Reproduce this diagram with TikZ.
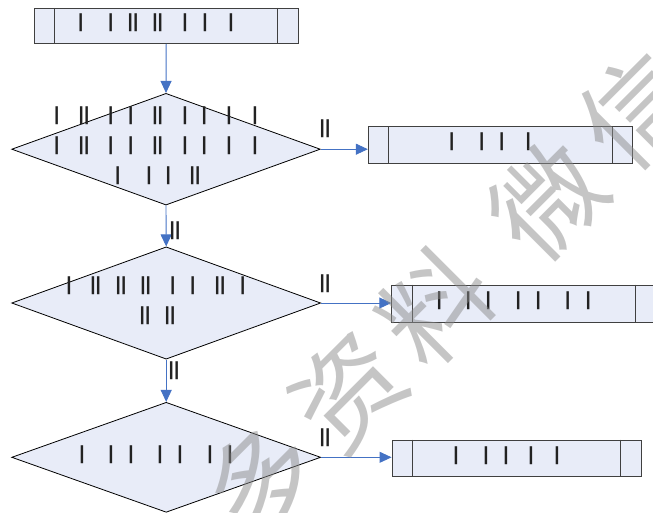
\documentclass[tikz,border=0pt]{standalone}
\usepackage{fontspec}
\setmainfont{Liberation Sans}
\newfontfamily\cjk{Noto Sans CJK SC}
\usetikzlibrary{shapes.geometric,arrows.meta}
\definecolor{boxfill}{RGB}{232,236,248}
\definecolor{arrowblue}{RGB}{68,114,196}
\definecolor{barcol}{RGB}{34,34,34}
\definecolor{boxline}{RGB}{64,64,64}
\definecolor{wm}{RGB}{140,140,140}
\begin{document}
\begin{tikzpicture}[x=1pt,y=-1pt,
  procbox/.style={rectangle,draw=boxline,fill=boxfill,line width=0.9pt,inner sep=0pt},
  divider/.style={draw=boxline,line width=0.9pt},
  decision/.style={diamond,draw=black,fill=boxfill,line width=0.8pt,inner sep=0pt},
  flow/.style={draw=arrowblue,line width=0.9pt,-{Triangle[length=12pt,width=11pt]}},
  glyph/.style={inner sep=0pt,text=barcol,font=\fontsize{19}{19}\selectfont\bfseries},
  wmark/.style={text=wm,text opacity=0.5,font=\cjk\fontsize{108}{108}\selectfont,rotate=45,inner sep=0pt}]
\useasboundingbox (0,0) rectangle (653,512);

% process boxes
\node[procbox,minimum width=264.3pt,minimum height=35pt] (b1) at (166.2,25.8) {};
\node[procbox,minimum width=264.4pt,minimum height=36.6pt] (b2) at (500.5,145) {};
\node[procbox,minimum width=264.3pt,minimum height=37.3pt] (b3) at (523.9,303.7) {};
\node[procbox,minimum width=249pt,minimum height=36pt] (b4) at (516.5,458) {};
\foreach \b in {b1,b2,b3,b4}{
  \draw[divider] ([xshift=21pt]\b.north west) -- ([xshift=21pt]\b.south west);
  \draw[divider] ([xshift=-21pt]\b.north east) -- ([xshift=-21pt]\b.south east);
}

% decisions
\node[decision,minimum width=308.6pt,minimum height=111.7pt] (d1) at (166,149.2) {};
\node[decision,minimum width=309pt,minimum height=112.3pt] (d2) at (166.2,303) {};
\node[decision,minimum width=309pt,minimum height=110pt] (d3) at (166.2,457.3) {};

% connectors
\draw[flow] (b1.south) -- (d1.north);
\draw[flow] (d1.south) -- (d2.north);
\draw[flow] (d2.south) -- (d3.north);
\draw[flow] (d1.east) -- (d1.east -| b2.west);
\draw[flow] (d2.east) -- (d2.east -| b3.west);
\draw[flow] (d3.east) -- (d3.east -| b4.west);

% connector labels
\node[glyph] (l1) at (325,129) {||};
\node[glyph] (l2) at (175,231) {||};
\node[glyph] (l3) at (325,284) {||};
\node[glyph] (l4) at (174,371) {||};
\node[glyph] (l5) at (325,438) {||};

% texts
\foreach \x/\t [count=\i] in {80.7/|,110.7/|,133/||,157.7/||,185/|,205/|,231/|}
  \node[glyph] (ta\i) at (\x,22.8) {\t};
\foreach \x/\t [count=\i] in {56.7/|,84/||,110.7/|,130.7/|,157.7/||,185/|,204.3/|,229/|,255/|}{
  \node[glyph] (tb\i) at (\x,116) {\t};
  \node[glyph] (tc\i) at (\x,146) {\t};
}
\foreach \x/\t [count=\i] in {117.7/|,149/|,168.3/|,195/||}
  \node[glyph] (td\i) at (\x,176) {\t};
\foreach \x/\t [count=\i] in {69/|,95.7/||,121/||,145.7/||,172.7/|,192.7/|,220/||,242.7/|}
  \node[glyph] (te\i) at (\x,286) {\t};
\foreach \x/\t [count=\i] in {145/||,170/||}
  \node[glyph] (tf\i) at (\x,316) {\t};
\foreach \x/\t [count=\i] in {82/|,111/|,131/|,160/|,180/|,210/|,230/|}
  \node[glyph] (tg\i) at (\x,455) {\t};
\foreach \x [count=\i] in {451.7,481.7,501.7,528.3}
  \node[glyph] (th\i) at (\x,142.2) {|};
\foreach \x [count=\i] in {439.3,468.3,488.3,518.3,538.3,567.7,588.3}
  \node[glyph] (ti\i) at (\x,301) {|};
\foreach \x [count=\i] in {456,486,506,531,557}
  \node[glyph] (tj\i) at (\x,456) {|};

% watermark
\node[wmark] (w1) at (262,480) {多};
\node[wmark] (w2) at (348,392) {资};
\node[wmark] (w3) at (436,306) {料};
\node[wmark] (w4) at (548,200) {微};
\node[wmark] (w5) at (636,110) {信};
\end{tikzpicture}
\end{document}
